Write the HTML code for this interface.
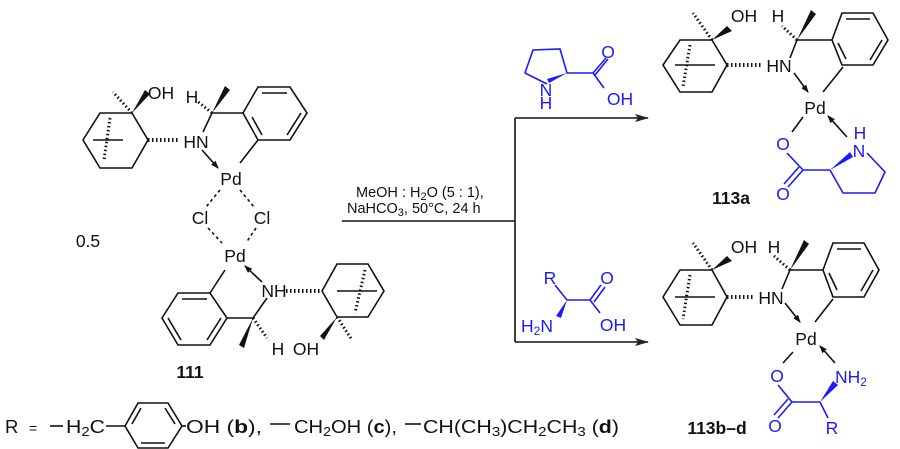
<!DOCTYPE html>
<html><head><meta charset="utf-8"><style>
html,body{margin:0;padding:0;background:#fff;}
svg{display:block;}
text{font-family:"Liberation Sans",sans-serif;font-size:17.5px;fill:#111;}
.m{text-anchor:middle;}
.b text,text.b{fill:#1a1aff;}
.bo{font-weight:bold;}
.rl{font-size:18.5px;}
</style></head><body>
<svg width="900" height="449" viewBox="0 0 900 449" xmlns="http://www.w3.org/2000/svg">
<defs>
<marker id="ah" markerWidth="8" markerHeight="6" refX="7" refY="3" orient="auto" markerUnits="userSpaceOnUse"><path d="M0,0 L8,3 L0,6 z" fill="#111"/></marker>
<marker id="bah" markerWidth="14" markerHeight="8" refX="13" refY="4" orient="auto" markerUnits="userSpaceOnUse"><path d="M0,0 L14,4 L0,8 L3,4 z" fill="#222"/></marker>
</defs>
<g stroke="#111" stroke-width="1.6" fill="none">
<polygon points="100,113 132,113 148,140 132,168 100,168 83,140"/>
<line x1="93" y1="140" x2="123" y2="140"/>
<line x1="110" y1="118" x2="104" y2="160" stroke-dasharray="1.5,2.5" stroke-width="3"/>
<line x1="132" y1="113" x2="113" y2="92" stroke-dasharray="1.5,2.5" stroke-width="3"/>
<line x1="148" y1="140" x2="180" y2="140" stroke-dasharray="1.5,2.5" stroke-width="4"/>
<line x1="212" y1="113" x2="197" y2="101" stroke-dasharray="1.5,2.5" stroke-width="3"/>
<line x1="203" y1="132" x2="212" y2="113"/>
<line x1="212" y1="113" x2="243" y2="113"/>
<polygon points="243,113 258,87 290,87 307,113 290,140 258,140"/>
<line x1="262" y1="93" x2="287" y2="93"/><line x1="301" y1="113" x2="287" y2="135"/><line x1="262" y1="135" x2="252" y2="117"/>
<line x1="258" y1="140" x2="240" y2="163"/>
<line x1="202" y1="150" x2="218" y2="168" marker-end="url(#ah)"/>
<g stroke-dasharray="3,3">
<line x1="220" y1="190" x2="206" y2="207"/><line x1="240" y1="190" x2="254" y2="207"/>
<line x1="208" y1="228" x2="222" y2="243"/><line x1="256" y1="228" x2="246" y2="243"/>
</g>
<polygon points="178,293 210,293 227,318 210,345 178,345 162,318"/>
<line x1="182" y1="299" x2="207" y2="299"/><line x1="168" y1="318" x2="181" y2="340"/><line x1="207" y1="340" x2="221" y2="318"/>
<line x1="210" y1="293" x2="225" y2="270"/>
<line x1="227" y1="318" x2="253" y2="318"/>
<line x1="253" y1="318" x2="267" y2="298"/>
<line x1="262" y1="282" x2="245" y2="266" marker-end="url(#ah)"/>
<line x1="253" y1="318" x2="267" y2="338" stroke-dasharray="1.5,2.5" stroke-width="3"/>
<line x1="286" y1="291" x2="322" y2="291" stroke-dasharray="1.5,2.5" stroke-width="4"/>
<polygon points="337,264 368,264 384,291 368,317 337,317 322,291"/>
<line x1="337" y1="291" x2="377" y2="291"/>
<line x1="365" y1="270" x2="355" y2="313" stroke-dasharray="1.5,2.5" stroke-width="3"/>
<line x1="337" y1="317" x2="352" y2="340" stroke-dasharray="1.5,2.5" stroke-width="3"/>
<line x1="342" y1="221" x2="515" y2="221"/>
<line x1="515" y1="118" x2="515" y2="342"/>
<line x1="515" y1="118" x2="648" y2="118" marker-end="url(#bah)"/>
<line x1="515" y1="342" x2="648" y2="342" marker-end="url(#bah)"/>
<polygon points="680,40 712,40 727,65 712,92 680,92 663,65"/>
<line x1="675" y1="65" x2="715" y2="65"/>
<line x1="690" y1="45" x2="683" y2="87" stroke-dasharray="1.5,2.5" stroke-width="3"/>
<line x1="712" y1="40" x2="693" y2="13" stroke-dasharray="1.5,2.5" stroke-width="3"/>
<line x1="727" y1="65" x2="763" y2="65" stroke-dasharray="1.5,2.5" stroke-width="4"/>
<line x1="797" y1="40" x2="782" y2="26" stroke-dasharray="1.5,2.5" stroke-width="3"/>
<line x1="790" y1="58" x2="797" y2="40"/>
<line x1="797" y1="40" x2="832" y2="40"/>
<polygon points="832,40 842,13 873,13 888,40 873,65 842,65"/>
<line x1="846" y1="19" x2="870" y2="19"/><line x1="882" y1="40" x2="870" y2="60"/><line x1="846" y1="59" x2="838" y2="43"/>
<line x1="843" y1="67" x2="823" y2="92"/>
<line x1="794" y1="73" x2="808" y2="92" marker-end="url(#ah)"/>
<polygon points="680,270 712,270 727,297 712,325 680,325 663,297"/>
<line x1="675" y1="297" x2="715" y2="297"/>
<line x1="690" y1="275" x2="683" y2="319" stroke-dasharray="1.5,2.5" stroke-width="3"/>
<line x1="712" y1="270" x2="693" y2="243" stroke-dasharray="1.5,2.5" stroke-width="3"/>
<line x1="727" y1="297" x2="755" y2="297" stroke-dasharray="1.5,2.5" stroke-width="4"/>
<line x1="790" y1="270" x2="774" y2="256" stroke-dasharray="1.5,2.5" stroke-width="3"/>
<line x1="782" y1="289" x2="790" y2="270"/>
<line x1="790" y1="270" x2="823" y2="270"/>
<polygon points="823,270 833,243 864,243 879,270 864,297 833,297"/>
<line x1="837" y1="249" x2="861" y2="249"/><line x1="873" y1="270" x2="861" y2="291"/><line x1="837" y1="290" x2="829" y2="273"/>
<line x1="833" y1="299" x2="815" y2="322"/>
<line x1="785" y1="303" x2="800" y2="322" marker-end="url(#ah)"/>
<line x1="793" y1="352" x2="783" y2="363"/>
<line x1="50" y1="426" x2="63" y2="426"/>
<line x1="106" y1="426" x2="125" y2="426"/>
<polygon points="125,426 138,403 168,403 182,426 168,448 138,448"/>
<line x1="141" y1="408" x2="132" y2="424"/><line x1="165" y1="408" x2="175" y2="424"/><line x1="141" y1="443" x2="165" y2="443"/>
<line x1="182" y1="426" x2="186" y2="426"/>
<line x1="270" y1="424" x2="290" y2="424"/>
<line x1="405" y1="424" x2="421" y2="424"/>
</g>
<g fill="#111">
<polygon points="132,113 145,90 150,94"/>
<polygon points="212,113 225,86 230,90"/>
<polygon points="337,317 320,336 324,340"/>
<polygon points="253,318 239,345 244,348"/>
<polygon points="712,40 727,26 732,31"/>
<polygon points="797,40 811,10 816,14"/>
<polygon points="712,270 727,256 732,261"/>
<polygon points="790,270 804,240 809,244"/>
</g>
<g stroke="#1a1aff" stroke-width="1.6" fill="none">
<polyline points="547,84 525,73 533,50 560,49 567,73 593,73 606,58"/>
<line x1="595" y1="75" x2="608" y2="59"/>
<line x1="593" y1="73" x2="604" y2="88"/>
<line x1="803" y1="117" x2="792" y2="132" stroke="#111"/>
<line x1="847" y1="137" x2="828" y2="116" stroke="#111" marker-end="url(#ah)"/>
<line x1="787" y1="153" x2="803" y2="170"/>
<line x1="803" y1="170" x2="788" y2="187"/><line x1="799" y1="167" x2="784" y2="184"/>
<line x1="803" y1="170" x2="830" y2="170"/>
<polyline points="867,153 885,172 875,193 843,193 830,170"/>
<line x1="778" y1="385" x2="792" y2="402"/>
<line x1="792" y1="402" x2="778" y2="418"/><line x1="788" y1="399" x2="774" y2="415"/>
<line x1="792" y1="402" x2="820" y2="402"/>
<line x1="820" y1="402" x2="828" y2="418"/>
<line x1="835" y1="363" x2="820" y2="346" stroke="#111" marker-end="url(#ah)"/>
<line x1="555" y1="285" x2="567" y2="300"/>
<line x1="567" y1="300" x2="590" y2="300"/>
<line x1="590" y1="300" x2="601" y2="285"/><line x1="594" y1="302" x2="605" y2="287"/>
<line x1="590" y1="300" x2="600" y2="313"/>
</g>
<g fill="#1a1aff">
<polygon points="567,73 549,83 547,79"/>
<polygon points="830,170 850,152 853,157"/>
<polygon points="820,402 833,381 838,385"/>
<polygon points="567,300 556,316 561,318"/>
</g>
<g class="m">
<text x="161" y="99">OH</text>
<text x="196" y="148">HN</text>
<text x="192" y="103">H</text>
<text x="231" y="185">Pd</text>
<text x="200" y="224">Cl</text>
<text x="262" y="224">Cl</text>
<text x="235" y="262">Pd</text>
<text x="274" y="297">NH</text>
<text x="278" y="355">H</text>
<text x="306" y="355">OH</text>
<text x="88" y="247">0.5</text>
<text class="bo" x="190" y="378">111</text>
<text x="744" y="22">OH</text>
<text x="779" y="72">HN</text>
<text x="778" y="22">H</text>
<text x="815" y="114">Pd</text>
<text class="bo" x="731" y="204">113a</text>
<text x="744" y="253">OH</text>
<text x="771" y="304">HN</text>
<text x="774" y="253">H</text>
<text x="806" y="345">Pd</text>
<text class="bo" x="717" y="434">113b–d</text>
</g>
<text x="356" y="197" style="font-size:14.5px">MeOH : H<tspan dy="3" style="font-size:11px">2</tspan><tspan dy="-3">O (5 : 1),</tspan></text>
<text x="347" y="213" style="font-size:14.5px">NaHCO<tspan dy="3" style="font-size:11px">3</tspan><tspan dy="-3">, 50°C, 24 h</tspan></text>
<g class="b">
<g class="m">
<text x="608" y="58">O</text>
<text x="620" y="105">OH</text>
<text x="546" y="96">N</text>
<text x="546" y="109">H</text>
<text x="783" y="150">O</text>
<text x="783" y="200">O</text>
<text x="859" y="157">N</text>
<text x="860" y="139">H</text>
<text x="777" y="382">O</text>
<text x="775" y="432">O</text>
<text x="832" y="434">R</text>
<text x="550" y="284">R</text>
<text x="607" y="284">O</text>
<text x="613" y="331">OH</text>
</g>
<text x="835" y="383">NH<tspan dy="3" style="font-size:12px">2</tspan></text>
<text x="521" y="332">H<tspan dy="3" style="font-size:12px">2</tspan><tspan dy="-3">N</tspan></text>
</g>
<text class="rl" x="5" y="433">R</text>
<text x="29" y="433" style="font-size:14px">=</text>
<text class="rl" x="66" y="433" textLength="39" lengthAdjust="spacingAndGlyphs">H<tspan dy="3" style="font-size:13px">2</tspan><tspan dy="-3">C</tspan></text>
<text class="rl" x="186" y="433" textLength="76" lengthAdjust="spacingAndGlyphs">OH (<tspan class="bo">b</tspan>),</text>
<text class="rl" x="294" y="433" textLength="103" lengthAdjust="spacingAndGlyphs">CH<tspan dy="3" style="font-size:13px">2</tspan><tspan dy="-3">OH (</tspan><tspan class="bo">c</tspan>),</text>
<text class="rl" x="423" y="433" textLength="196" lengthAdjust="spacingAndGlyphs">CH(CH<tspan dy="3" style="font-size:13px">3</tspan><tspan dy="-3">)CH</tspan><tspan dy="3" style="font-size:13px">2</tspan><tspan dy="-3">CH</tspan><tspan dy="3" style="font-size:13px">3</tspan><tspan dy="-3"> (</tspan><tspan class="bo">d</tspan>)</text>
</svg>
</body></html>
